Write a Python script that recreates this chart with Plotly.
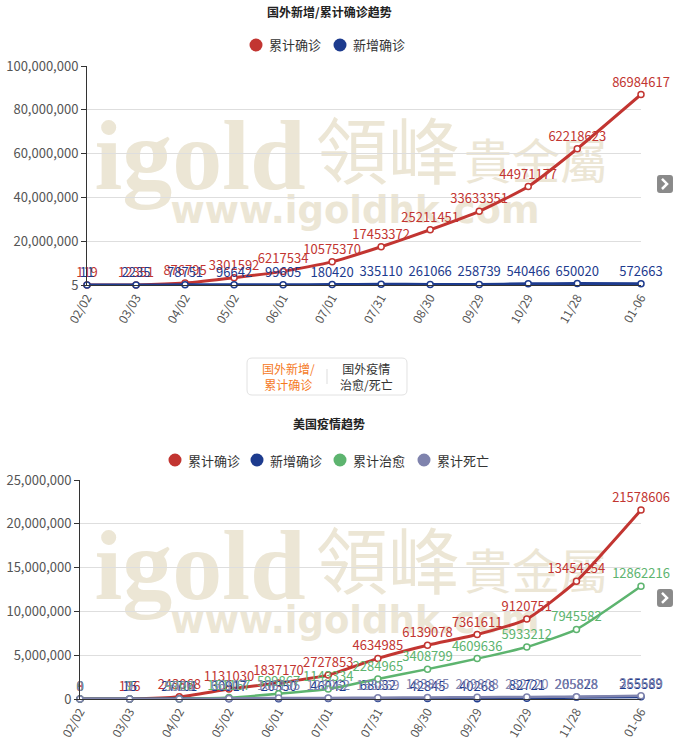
import plotly.graph_objects as go

W, H = 700, 747
FONT = 'Noto Sans CJK SC'
RED = '#c23531'
NAVY = '#1d3b8e'
GREEN = '#5db46f'
PURPLE = '#7f83ad'
MARK = '#ece6d5'
JAVASCRIPT = "document.body.style.margin = '0';"
CONFIG = {'displayModeBar': False}

dates = ['2020-02-02', '2020-03-03', '2020-04-02', '2020-05-02', '2020-06-01', '2020-07-01',
         '2020-07-31', '2020-08-30', '2020-09-29', '2020-10-29', '2020-11-28', '2021-01-06']
tick_labels = ['02/02', '03/03', '04/02', '05/02', '06/01', '07/01',
               '07/31', '08/30', '09/29', '10/29', '11/28', '01-06']

world_total = [119, 12351, 876795, 3301592, 6217534, 10575370,
               17453372, 25211451, 33633351, 44971177, 62218623, 86984617]
world_new = [11, 2235, 78751, 96642, 99605, 180420,
             335110, 261066, 258739, 540466, 650020, 572663]

us_total = [8, 116, 243868, 1131030, 1837170, 2727853,
            4634985, 6139078, 7361611, 9120751, 13454254, 21578606]
us_new = [0, 15, 27701, 30917, 20350, 46042,
          68032, 42845, 40268, 82721, 205828, 255589]
us_cured = [0, 7, 9707, 161167, 599867, 1143334,
            2284965, 3408799, 4609636, 5933212, 7945582, 12862216]
us_dead = [0, 9, 5926, 66107, 106195, 128062,
           153869, 183865, 209808, 232720, 265878, 365669]


def px(x, y):
    return x / W, 1 - y / H


def to_path(pts, close=True):
    out = []
    for p in pts:
        cmd, coords = p[0], p[1:]
        xy = []
        for i in range(0, len(coords), 2):
            a, b = px(coords[i], coords[i + 1])
            xy.append(f'{a:.4f},{b:.4f}')
        out.append(cmd + ' '.join(xy))
    return ' '.join(out) + (' Z' if close else '')


def rounded_rect(x0, y0, x1, y1, r):
    return to_path([('M', x0 + r, y0), ('L', x1 - r, y0), ('Q', x1, y0, x1, y0 + r),
                    ('L', x1, y1 - r), ('Q', x1, y1, x1 - r, y1), ('L', x0 + r, y1),
                    ('Q', x0, y1, x0, y1 - r), ('L', x0, y0 + r), ('Q', x0, y0, x0 + r, y0)])


def note(text, x, y, size=13, color='#333', xanchor='center'):
    fig.add_annotation(text=text, x=x / W, y=1 - y / H, xref='paper', yref='paper',
                       xanchor=xanchor, yanchor='middle', showarrow=False,
                       font=dict(size=size, color=color))


fig = go.Figure()


def add_series(name, values, color, xa, ya, width=3):
    fig.add_trace(go.Scatter(
        x=dates, y=values, xaxis=xa, yaxis=ya, name=name,
        mode='lines+markers+text',
        line=dict(color=color, width=width, shape='spline', smoothing=0.5),
        marker=dict(symbol='circle', size=6, color='white', line=dict(color=color, width=1.5)),
        text=[str(v) for v in values], textposition='top center',
        textfont=dict(color=color, size=13, family=FONT),
        cliponaxis=False, showlegend=False
    ))


add_series('累计确诊', world_total, RED, 'x', 'y')
add_series('新增确诊', world_new, NAVY, 'x', 'y')

add_series('累计确诊', us_total, RED, 'x2', 'y2')
add_series('新增确诊', us_new, NAVY, 'x2', 'y2')
add_series('累计治愈', us_cured, GREEN, 'x2', 'y2', width=2.5)
add_series('累计死亡', us_dead, PURPLE, 'x2', 'y2', width=2.5)

xcommon = dict(type='date', tickvals=dates, ticktext=tick_labels, tickangle=-60,
               range=[dates[0], dates[-1]], showgrid=False, showline=True,
               linecolor='#333', linewidth=1, ticks='', automargin=False,
               tickfont=dict(size=12, color='#555', family=FONT))
ycommon = dict(showline=True, linecolor='#333', linewidth=1, ticks='outside', ticklen=5,
               tickcolor='#333', gridcolor='#dedede', zeroline=False, tickformat=',',
               automargin=False, tickfont=dict(size=13, color='#555', family=FONT))

fig.update_layout(
    width=W, height=H,
    margin=dict(l=0, r=0, t=0, b=0),
    paper_bgcolor='white', plot_bgcolor='white',
    font=dict(family=FONT, color='#333'),
    showlegend=False,
    xaxis=dict(domain=[87 / W, 641 / W], anchor='y', **xcommon),
    yaxis=dict(domain=[1 - 285 / H, 1 - 66 / H], anchor='x', range=[5, 1e8],
               tickvals=[5, 2e7, 4e7, 6e7, 8e7, 1e8], **ycommon),
    xaxis2=dict(domain=[80 / W, 641 / W], anchor='y2', **xcommon),
    yaxis2=dict(domain=[1 - 699 / H, 1 - 480 / H], anchor='x2', range=[0, 2.5e7],
                dtick=5e6, **ycommon),
    hovermode='x',
)

# titles
note('<b>国外新增/累计确诊趋势</b>', 329, 12, size=12, color='#222')
note('<b>美国疫情趋势</b>', 329, 423, size=12, color='#222')

# legends drawn by hand: filled circle + name
legend_items = [
    ('累计确诊', RED, 256, 45), ('新增确诊', NAVY, 340, 45),
    ('累计确诊', RED, 175, 460), ('新增确诊', NAVY, 257, 460),
    ('累计治愈', GREEN, 340, 460), ('累计死亡', PURPLE, 424, 460),
]
for name, color, cx, cy in legend_items:
    a0, b0 = px(cx - 6.5, cy + 6.5)
    a1, b1 = px(cx + 6.5, cy - 6.5)
    fig.add_shape(type='circle', x0=a0, x1=a1, y0=b0, y1=b1, xref='paper', yref='paper',
                  line=dict(width=0), fillcolor=color)
    note(name, cx + 11, cy, xanchor='left')

# tab switcher between the two charts
fig.add_shape(type='path', path=rounded_rect(247, 358, 407, 395, 5), xref='paper', yref='paper',
              line=dict(color='#e2e2e2', width=1), fillcolor='white')
note('国外新增/<br>累计确诊', 288, 376, size=12, color='#f57a1f')
note('国外疫情<br>治愈/死亡', 367, 376, size=12, color='#333')
fig.add_shape(type='line', x0=327 / W, x1=327 / W, y0=1 - 369 / H, y1=1 - 384 / H,
              xref='paper', yref='paper', line=dict(color='#dddddd', width=1))

# small "next" buttons on the right
for yc in [184, 598]:
    fig.add_shape(type='path', path=rounded_rect(657, yc - 9, 673, yc + 9, 3), xref='paper',
                  yref='paper', line=dict(width=0), fillcolor='#8a8a8a')
    fig.add_shape(type='path', path=to_path([('M', 662, yc - 5), ('L', 667, yc), ('L', 662, yc + 5)],
                                            close=False),
                  xref='paper', yref='paper', line=dict(color='white', width=2.5))

# watermark, kept below the lines
for dy in [0, 410]:
    marks = [
        ('<b>igold</b>', 88, 96, 312, 192, 100, 'Liberation Serif'),
        ('領峰', 316, 118, 460, 198, 72, FONT),
        ('貴金屬', 462, 140, 610, 192, 48, FONT),
        ('<b>www.igoldhk.com</b>', 185, 186, 525, 228, 37, 'DejaVu Sans'),
    ]
    for text, x0, y0, x1, y1, size, fam in marks:
        a0, b0 = px(x0, y0 + dy)
        a1, b1 = px(x1, y1 + dy)
        fig.add_shape(type='rect', x0=a0, x1=a1, y0=b1, y1=b0, xref='paper', yref='paper',
                      line=dict(width=0), fillcolor='rgba(0,0,0,0)', layer='below',
                      label=dict(text=text, textposition='middle center',
                                 font=dict(size=size, color=MARK, family=fam)))

fig.write_html('out.html', config=CONFIG, post_script=[JAVASCRIPT])
